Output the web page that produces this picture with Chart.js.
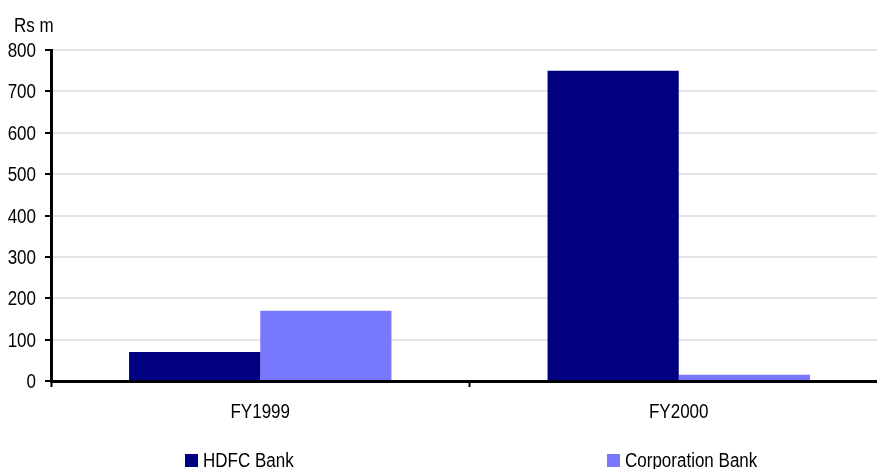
<!DOCTYPE html>
<html>
<head>
<meta charset="utf-8">
<script src="https://cdn.jsdelivr.net/npm/chart.js@4/dist/chart.umd.min.js"></script>
<style>
  html, body { margin: 0; padding: 0; background: #fff; overflow: hidden; }
  #wrap { position: relative; width: 888px; height: 469px; }
</style>
</head>
<body>
<div id="wrap"><canvas id="chart" width="888" height="469"></canvas></div>
<script>
// ===================== DATA =====================
const categories = ['FY1999', 'FY2000'];
const hdfcValues = [70, 750];
const corpValues = [170, 15];
const seriesNames = ['HDFC Bank', 'Corporation Bank'];
const seriesColors = ['#000080', '#7878ff'];
const yUnit = 'Rs m';

const FONT = '20px "Liberation Sans", Arial, sans-serif';
const SQUEEZE = 0.85; // original text is a narrow face

// draw horizontally condensed text
function narrowText(ctx, text, x, y, align) {
  ctx.save();
  ctx.translate(x, y);
  ctx.scale(SQUEEZE, 1);
  ctx.textAlign = align;
  ctx.fillText(text, 0, 0);
  ctx.restore();
}

// ===================== TEXT PLUGIN (ticks, unit, legend) =====================
const textPlugin = {
  id: 'narrowText',
  afterDraw(chart) {
    const ctx = chart.ctx;
    const xs = chart.scales.x, ys = chart.scales.y;
    ctx.save();
    ctx.font = FONT;
    ctx.fillStyle = '#000';
    ctx.textBaseline = 'alphabetic';

    ys.ticks.forEach((t, i) => {
      narrowText(ctx, String(t.value), 36, ys.getPixelForTick(i) + 7, 'right');
    });
    xs.ticks.forEach((t, i) => {
      narrowText(ctx, chart.data.labels[i], xs.getPixelForTick(i), 418, 'center');
    });

    narrowText(ctx, yUnit, 14, 32, 'left');

    // legend, spread like the original
    const spots = [185, 607];
    chart.data.datasets.forEach((ds, i) => {
      ctx.fillStyle = ds.backgroundColor;
      ctx.fillRect(spots[i], 454, 13, 13);
      ctx.fillStyle = '#000';
      narrowText(ctx, ds.label, spots[i] + 18, 467, 'left');
    });
    ctx.restore();
  }
};

new Chart(document.getElementById('chart'), {
  type: 'bar',
  data: {
    labels: categories,
    datasets: [
      { label: seriesNames[0], data: hdfcValues, backgroundColor: seriesColors[0] },
      { label: seriesNames[1], data: corpValues, backgroundColor: seriesColors[1] }
    ]
  },
  options: {
    responsive: false,
    animation: false,
    devicePixelRatio: 1,
    layout: { padding: { top: 50, left: 0, right: 0, bottom: 0 } },
    datasets: { bar: { categoryPercentage: 0.627, barPercentage: 1 } },
    plugins: { legend: { display: false }, tooltip: { enabled: false } },
    scales: {
      x: {
        grid: { display: true, drawOnChartArea: false, offset: true, tickColor: '#000', tickLength: 6, tickWidth: 2 },
        border: { color: '#000', width: 3 },
        ticks: { display: false },
        afterFit: s => { s.height = 88; }
      },
      y: {
        min: 0,
        max: 800,
        ticks: { stepSize: 100, display: false },
        grid: { color: '#e4e4e4', lineWidth: 2, tickColor: '#000', tickLength: 6, tickWidth: 2 },
        border: { color: '#000', width: 3 },
        afterFit: s => { s.width = 51; }
      }
    }
  },
  plugins: [textPlugin]
});
</script>
</body>
</html>
